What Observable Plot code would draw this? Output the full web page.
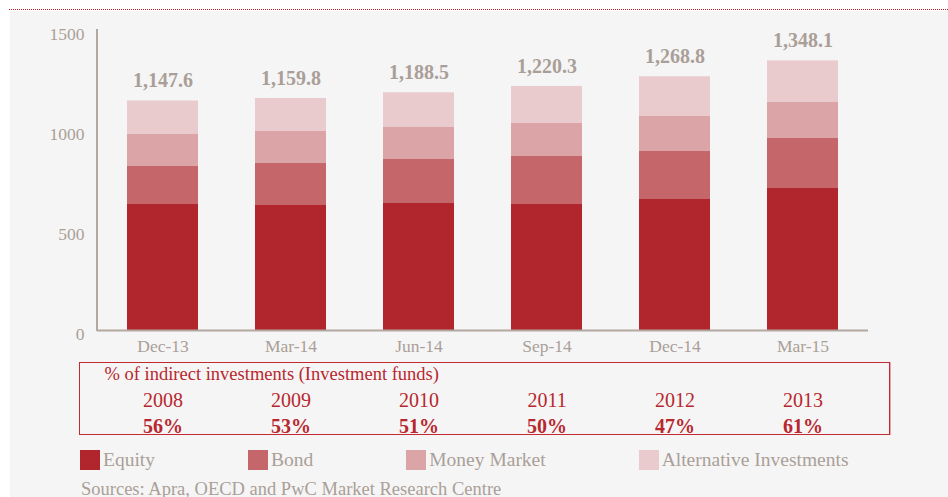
<!DOCTYPE html>
<html>
<head>
<meta charset="utf-8">
<script src="https://cdn.jsdelivr.net/npm/d3@7"></script>
<script src="https://cdn.jsdelivr.net/npm/@observablehq/plot@0.6"></script>
<style>
  html, body { margin: 0; padding: 0; background: #ffffff; width: 948px; height: 497px; overflow: hidden; }
  body { position: relative; font-family: "Liberation Serif", serif; }
  #dots { position: absolute; left: 9px; right: 0; top: 9px; height: 0; border-top: 1px dotted #c8202c; }
  #panel { position: absolute; left: 10px; right: 0; top: 11px; bottom: 0; background: #f5f5f5; }
  #chart { position: absolute; left: 0; top: 0; }
  #box { position: absolute; left: 79px; top: 362px; width: 809px; height: 71px; border: 1px solid #c12a31; box-shadow: 1px 0 0 #e3a9ac; }
  #legend { position: absolute; left: 80px; top: 449px; display: flex; align-items: center; font-size: 19.5px; color: #aa9f98; }
  #legend .item { display: inline-flex; align-items: center; margin-right: 93px; }
  #legend .sw { width: 20px; height: 20px; margin-right: 3px; }
  #source { position: absolute; left: 81px; top: 478px; font-size: 18.5px; line-height: 22px; color: #aa9f98; white-space: nowrap; }
</style>
</head>
<body>
<div id="dots"></div>
<div id="panel"></div>
<div id="box"></div>
<div id="chart"></div>
<div id="legend"></div>
<div id="source">Sources: Apra, OECD and PwC Market Research Centre</div>
<script>
// ---- data ----
const dates = ["Dec-13", "Mar-14", "Jun-14", "Sep-14", "Dec-14", "Mar-15"];
const equity = [630, 625, 635, 630, 655, 710];
const bond = [190, 210, 220, 240, 240, 250];
const moneyMarket = [160, 160, 160, 165, 175, 180];
const alternative = [167.6, 164.8, 173.5, 185.3, 198.8, 208.1];
const totals = [1147.6, 1159.8, 1188.5, 1220.3, 1268.8, 1348.1];
const types = ["Equity", "Bond", "Money Market", "Alternative Investments"];
const colors = ["#b1262d", "#c4666a", "#dba4a7", "#e9cbcd"];
const yTicks = [0, 500, 1000, 1500];
const tableTitle = "% of indirect investments (Investment funds)";
const years = ["2008", "2009", "2010", "2011", "2012", "2013"];
const shares = [56, 53, 51, 50, 47, 61];

// ---- build table ----
const seriesValues = [equity, bond, moneyMarket, alternative];
const rows = [];
types.forEach((t, k) => dates.forEach((d, i) => rows.push({date: d, type: t, value: seriesValues[k][i]})));
const totalRows = dates.map((d, i) => ({date: d, total: totals[i]}));
const tableRows = dates.map((d, i) => ({date: d, year: years[i], share: shares[i]}));

const grey = "#aa9f98";
const red = "#b9272e";

const chart = Plot.plot({
  width: 948,
  height: 440,
  marginLeft: 97,
  marginRight: 80,
  marginTop: 30,
  marginBottom: 110,
  style: {fontFamily: "Liberation Serif, serif", background: "transparent", color: grey, overflow: "visible"},
  x: {domain: dates, paddingInner: 0.447, paddingOuter: 0.2235, label: null},
  y: {domain: [0, 1500], label: null},
  color: {domain: types, range: colors},
  marks: [
    Plot.barY(rows, {x: "date", y: "value", fill: "type", order: types}),
    Plot.ruleY([0], {stroke: "#b3a8a0", strokeWidth: 2}),
    Plot.axisY({ticks: yTicks, tickSize: 0, tickPadding: 13, tickFormat: d => String(d), fontSize: 17.5, dy: 4}),
    Plot.axisX({tickSize: 0, tickPadding: 9, fontSize: 17.5}),
    Plot.text(totalRows, {x: "date", y: "total", text: d => d3.format(",.1f")(d.total), dy: -20, fontSize: 20, fontWeight: "bold", fill: grey}),
    Plot.text([tableTitle], {frameAnchor: "bottom-left", text: d => d, textAnchor: "start", dx: 7, dy: 49.5, fontSize: 18.5, fill: red}),
    Plot.text(tableRows, {x: "date", frameAnchor: "bottom", text: "year", dy: 76, fontSize: 20, fill: red}),
    Plot.text(tableRows, {x: "date", frameAnchor: "bottom", text: d => d.share + "%", dy: 102, fontSize: 20, fontWeight: "bold", fill: red})
  ]
});
document.getElementById("chart").appendChild(chart);

// y-axis line drawn from the chart's own scales
const xs = chart.scale("x"), ys = chart.scale("y");
d3.select(chart).append("line")
  .attr("x1", xs.range[0]).attr("x2", xs.range[0])
  .attr("y1", ys.apply(1500) - 1).attr("y2", ys.apply(0) + 1)
  .attr("stroke", "#b3a8a0").attr("stroke-width", 2);

// legend
const lg = d3.select("#legend");
types.forEach((t, i) => {
  const it = lg.append("span").attr("class", "item");
  it.append("span").attr("class", "sw").style("background", colors[i]);
  it.append("span").text(t);
});
</script>
</body>
</html>
